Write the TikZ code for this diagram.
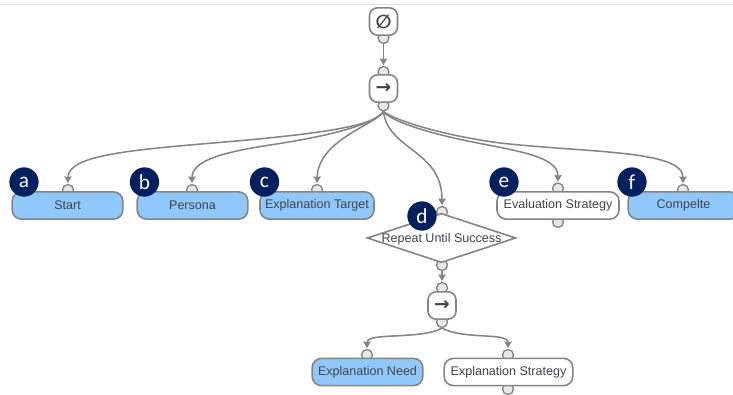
\documentclass[tikz,border=0pt]{standalone}
\usepackage{fontspec}
\setmainfont{Liberation Sans}
\newfontfamily\symfont{DejaVu Sans}
\newfontfamily\badgefont{Carlito}
\usetikzlibrary{arrows.meta,shapes.geometric}
\definecolor{edgegray}{HTML}{858585}
\definecolor{portfill}{HTML}{E8E8E8}
\definecolor{actblue}{HTML}{90C8FB}
\definecolor{navy}{HTML}{002060}
\definecolor{txt}{HTML}{3F454B}
\tikzset{
  px/.style={x=0.75pt,y=-0.75pt},
  port/.style={circle,draw=edgegray,fill=portfill,line width=1pt,minimum size=8.25pt,inner sep=0pt},
  conn/.style={draw=edgegray,line width=1.15pt,-{Stealth[length=5pt,width=5.5pt,inset=0.5pt]},shorten >=0.5pt},
  base/.style={draw=edgegray,line width=1.2pt,rounded corners=7pt,text=txt,font=\fontsize{9.4}{11}\selectfont,inner sep=0pt,minimum height=20.5pt},
  act/.style={base,fill=actblue},
  wbox/.style={base,fill=white},
  ctl/.style={draw=edgegray,line width=1.2pt,rounded corners=6pt,fill=white,text=txt,inner sep=0pt,minimum width=21pt,minimum height=20.5pt,font=\symfont\bfseries\fontsize{14}{14}\selectfont},
  decide/.style={diamond,aspect=3,draw=edgegray,line width=1.2pt,fill=white,text=txt,inner sep=0pt,minimum width=111.5pt,minimum height=37pt,font=\fontsize{9.4}{11}\selectfont},
  badge/.style={circle,fill=navy,text=white,inner sep=0pt,minimum size=22pt,font=\badgefont\fontsize{16}{16}\selectfont},
}
\begin{document}
\begin{tikzpicture}[px]
\useasboundingbox (0,0) rectangle (733,395);
\fill[white] (0,0) rectangle (733,395);
\coordinate (tl) at (0,4);
\coordinate (tr) at (733,4);
\draw[black!12,line width=0.7pt] (tl) -- (tr);
% ports
\node[port] (p0b) at (383.5,38) {};
\node[port] (p1t) at (383.5,72) {};
\node[port] (p1b) at (383.5,105.5) {};
\node[port] (pa) at (68,190) {};
\node[port] (pb) at (192,190) {};
\node[port] (pc) at (317,190) {};
\node[port] (pd) at (442,212) {};
\node[port] (pdb) at (442,265) {};
\node[port] (pe) at (558,188.5) {};
\node[port] (peb) at (558,222) {};
\node[port] (pf) at (683,190) {};
\node[port] (p2t) at (442,288) {};
\node[port] (p2b) at (442,322) {};
\node[port] (pn) at (367,355) {};
\node[port] (ps) at (508,355) {};
\node[port] (psb) at (508,389) {};
% nodes
\node[ctl] (nul) at (383.5,21.5) {∅};
\node[ctl] (seq) at (383.5,88.5) {→};
\node[act,minimum width=83pt] (start) at (67.5,205.5) {Start};
\node[act,minimum width=83pt] (persona) at (192.5,205.5) {Persona};
\node[act,minimum width=85.5pt] (target) at (317,205.5) {Explanation Target};
\node[decide] (rep) at (441.5,238) {\makebox[0pt]{\smash{\raisebox{-3.2pt}{Repeat Until Success}}}};
\node[wbox,minimum width=91.5pt] (evals) at (558,205.5) {Evaluation Strategy};
\node[act,minimum width=83pt] (comp) at (683.5,205.5) {Compelte};
\node[ctl] (seqb) at (442,305.5) {→};
\node[act,minimum width=83pt] (need) at (367.5,372) {Explanation Need};
\node[wbox,minimum width=96.5pt] (strat) at (508.5,372) {Explanation Strategy};
% connectors
\draw[conn] (p0b.south) -- (p1t.north);
\draw[conn] (p1b.south) .. controls (375,125) and (330,133) .. (225,142) .. controls (130,150) and (68,155) .. (pa.north);
\draw[conn] (p1b.south) .. controls (372,125) and (330,136) .. (270,145) .. controls (225,152) and (192,160) .. (pb.north);
\draw[conn] (p1b.south) .. controls (375,125) and (318,140) .. (pc.north);
\draw[conn] (p1b.south) .. controls (388,150) and (442,150) .. (pd.north);
\draw[conn] (p1b.south) .. controls (392,122) and (430,133) .. (463,140) .. controls (510,150) and (558,155) .. (pe.north);
\draw[conn] (p1b.south) .. controls (395,120) and (440,135) .. (500,143) .. controls (590,153) and (683,150) .. (pf.north);
\draw[conn] (pdb.south) -- (p2t.north);
\draw[conn] (p2b.south) .. controls (420,340) and (367,332) .. (pn.north);
\draw[conn] (p2b.south) .. controls (464,340) and (508,332) .. (ps.north);
% badges
\node[badge] (ba) at (24,182) {a};
\node[badge] (bb) at (144.5,182) {b};
\node[badge] (bc) at (264.5,182) {c};
\node[badge] (bd) at (422,216) {d};
\node[badge] (be) at (504,182) {e};
\node[badge] (bf) at (632,182) {f};
\end{tikzpicture}
\end{document}
